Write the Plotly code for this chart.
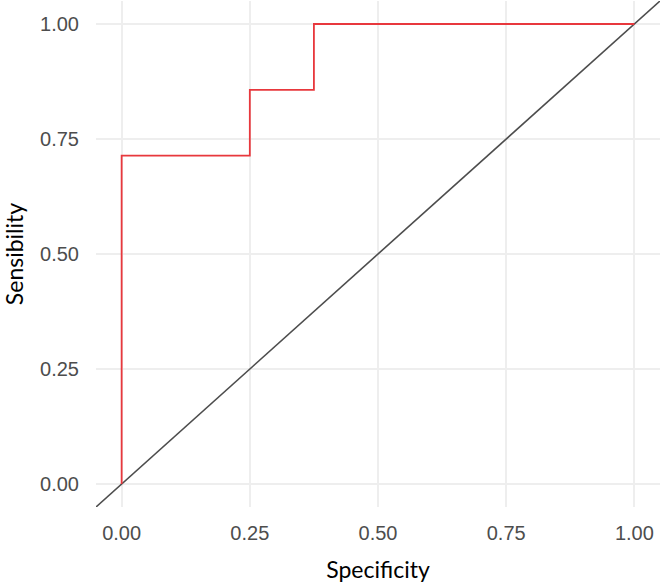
import plotly.graph_objects as go

# ROC curve data (Specificity on x, Sensibility on y)
specificity = [0.0, 0.0, 0.25, 0.25, 0.375, 0.375, 1.0]
sensibility = [0.0, 0.714, 0.714, 0.857, 0.857, 1.0, 1.0]

# reference (chance) line y = x across the whole panel
axis_range = [-0.05, 1.05]
tick_vals = [0.0, 0.25, 0.5, 0.75, 1.0]
tick_text = ["0.00", "0.25", "0.50", "0.75", "1.00"]

fig = go.Figure()
fig.add_trace(go.Scatter(
    x=axis_range, y=axis_range, mode="lines",
    line=dict(color="#4d4d4d", width=1.6), hoverinfo="skip", showlegend=False,
))
fig.add_trace(go.Scatter(
    x=specificity, y=sensibility, mode="lines",
    line=dict(color="#e8383d", width=1.8, shape="linear"), showlegend=False,
))

tickfont = dict(family="Liberation Sans, Arial, sans-serif", size=20, color="#4d4d4d")
titlefont = dict(family="Lato, Carlito, sans-serif", size=23, color="#000000")

fig.update_layout(
    width=661, height=583,
    margin=dict(l=96, r=1, t=1, b=76),
    paper_bgcolor="white", plot_bgcolor="white",
    xaxis=dict(
        range=axis_range, tickvals=tick_vals, ticktext=tick_text,
        showgrid=True, gridcolor="#eeeeee", gridwidth=2, zeroline=False,
        showline=False, ticks="outside", ticklen=8, tickcolor="rgba(0,0,0,0)",
        tickfont=tickfont,
        title=dict(text="Specificity", font=titlefont, standoff=20),
    ),
    yaxis=dict(
        range=axis_range, tickvals=tick_vals, ticktext=tick_text,
        showgrid=True, gridcolor="#eeeeee", gridwidth=2, zeroline=False,
        showline=False, ticks="outside", ticklen=12, tickcolor="rgba(0,0,0,0)",
        tickfont=tickfont,
        title=dict(text="Sensibility", font=titlefont, standoff=14),
    ),
)

fig.write_html("out.html")
